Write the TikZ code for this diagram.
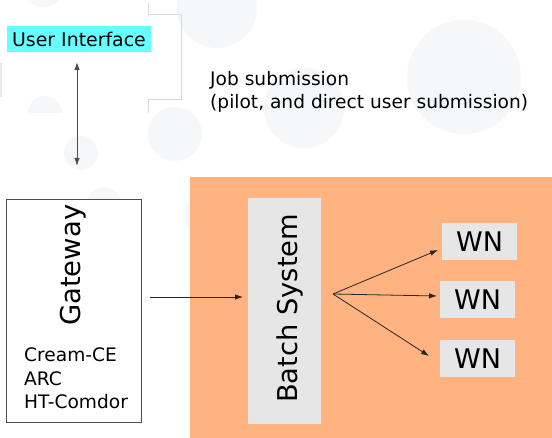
\documentclass[tikz,border=0pt]{standalone}
\usepackage{fontspec}
\setmainfont{DejaVu Sans}
\usetikzlibrary{arrows.meta}

\definecolor{uicyan}{HTML}{66FFFF}
\definecolor{siteorange}{HTML}{FFB380}
\definecolor{boxgray}{HTML}{E6E6E6}
\definecolor{ghost}{HTML}{F6F7F9}
\definecolor{faintline}{HTML}{DADADA}

\tikzset{
  blob/.style={fill=ghost, draw=none},
  graybox/.style={fill=boxgray, draw=none, inner sep=0pt},
  wnbox/.style={graybox, minimum width=75pt, minimum height=37pt, font=\fontsize{27}{30}\selectfont},
  flow/.style={draw=black!85, line width=0.8pt, -{Latex[length=8pt,width=5.5pt]}},
  twoway/.style={draw=black!70, line width=1pt, {Latex[length=8pt,width=5.5pt]}-{Latex[length=8pt,width=5.5pt]}}
}

\begin{document}
\begin{tikzpicture}[x=1pt, y=-1pt]
  \useasboundingbox (0,0) rectangle (552,438);
  \fill[white] (0,0) rectangle (552,438);

  % faint background discs
  \fill[blob] (217,8) circle (40);
  \fill[blob] (464,77) circle (57);
  \fill[blob] (304,108) circle (40);
  \fill[blob] (175,134) circle (27);
  \fill[blob] (81,153) circle (17);
  \fill[blob] (43,-15) circle (22);
  \fill[blob] (28,113) arc[start angle=180, end angle=360, radius=17] -- cycle;
  \fill[blob] (104,204) circle (17);
  \fill[blob] (207,215) circle (22);

  % faint bracket outline
  \draw[faintline, line width=0.8pt] (148,2) -- (148,14) -- (181,14) -- (181,99) -- (148,99) -- (148,113);
  \fill[faintline!60] (0,63) rectangle (1.5,97);

  % site area
  \fill[siteorange] (190,177) rectangle (552,438);

  % user interface
  \node[fill=uicyan, inner sep=0pt, minimum width=144pt, minimum height=26pt,
        font=\fontsize{18.9}{20}\selectfont] (ui) at (79,39) {User Interface};

  % job submission label (anchored on the baseline of its last line)
  \node[anchor=base west, align=left, inner sep=0pt,
        font=\fontsize{18.6}{23}\selectfont] (jobs) at (210,109)
        {Job submission\\(pilot, and direct user submission)};

  % gateway
  \node[draw=black!70, fill=white, line width=0.8pt, minimum width=135pt, minimum height=223pt,
        inner sep=0pt] (gw) at (73.5,310.5) {};
  \node[rotate=90, anchor=base west, inner sep=0pt, font=\fontsize{27.4}{30}\selectfont]
        (gwname) at (80,326) {Gateway};
  \node[anchor=base west, align=left, inner sep=0pt, font=\fontsize{18.6}{23.5}\selectfont]
        (gwlist) at (24,409) {Cream-CE\\ARC\\HT-Comdor};

  % batch system
  \node[graybox, minimum width=73pt, minimum height=226pt] (bs) at (284.5,311) {};
  \node[rotate=90, anchor=base west, inner sep=0pt, font=\fontsize{27.3}{30}\selectfont]
        (bsname) at (297,403) {Batch System};

  % worker nodes
  \node[wnbox] (wn1) at (479.5,241.5) {WN};
  \node[wnbox] (wn2) at (477.5,299.5) {WN};
  \node[wnbox] (wn3) at (477.5,358.5) {WN};

  % connector end points
  \coordinate (uiA) at (77,62);
  \coordinate (uiB) at (77,166);
  \coordinate (gwout) at (150,297);
  \coordinate (bsin) at (243,297);
  \coordinate (fan) at (333,294);
  \coordinate (to1) at (438,250);
  \coordinate (to2) at (437,296);
  \coordinate (to3) at (429,356);

  \draw[twoway] (uiA) -- (uiB);
  \draw[flow] (gwout) -- (bsin);
  \draw[flow] (fan) -- (to1);
  \draw[flow] (fan) -- (to2);
  \draw[flow] (fan) -- (to3);
\end{tikzpicture}
\end{document}
